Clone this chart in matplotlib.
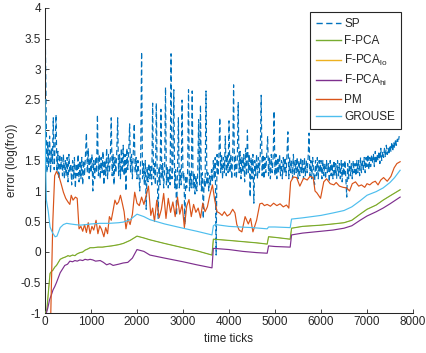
import numpy as np
import matplotlib
matplotlib.use("Agg")
import matplotlib.pyplot as plt

plt.rcParams['font.family'] = ['Liberation Sans', 'DejaVu Sans']
plt.rcParams['mathtext.fontset'] = 'custom'
plt.rcParams['mathtext.rm'] = 'Liberation Sans'
plt.rcParams['mathtext.it'] = 'Liberation Sans'
plt.rcParams['axes.unicode_minus'] = False

# ---------------- data ----------------
sp_step = 20
sp_values = [
    4.0, 2.6, 1.3, 1.8, 1.4, 1.9, 1.3, 1.7, 1.45, 2.2, 1.35, 1.75, 2.25, 1.3, 1.65, 1.2, 1.6, 1.35, 1.55, 1.25,
    1.6, 1.2, 1.5, 1.25, 1.55, 1.15, 1.6, 1.3, 1.45, 1.1, 1.5, 1.2, 1.55, 1.05, 1.45, 1.25, 1.6, 1.15, 1.5, 1.2,
    1.55, 1.1, 1.5, 1.25, 1.6, 1.95, 1.3, 1.7, 1.2, 1.55, 1.3, 1.6, 1.0, 1.5, 1.2, 1.55, 1.3, 2.25, 1.25, 1.6,
    1.2, 1.55, 1.3, 1.65, 1.1, 1.5, 1.25, 1.7, 1.2, 1.6, 1.3, 1.55, 2.2, 1.25, 1.6, 1.1, 1.55, 1.3, 1.65, 2.2,
    1.25, 1.6, 1.2, 1.7, 1.3, 1.75, 1.25, 1.6, 1.0, 1.7, 1.35, 1.65, 2.1, 1.3, 1.6, 1.2, 1.65, 2.1, 1.3, 1.55,
    1.2, 1.5, 1.25, 1.0, 1.55, 3.28, 1.2, 1.45, 1.1, 1.5, 0.7, 1.4, 1.15, 1.45, 1.2, 1.4, 1.1, 2.44, 1.2, 1.45,
    1.1, 2.44, 1.25, 0.55, 1.4, 1.1, 2.34, 1.2, 1.45, 1.05, 1.35, 2.7, 1.1, 1.4, 1.05, 1.35, 1.1, 3.25, 1.2, 1.4,
    2.66, 1.05, 1.35, 0.6, 1.3, 2.2, 1.05, 1.35, 1.1, 2.49, 1.2, 1.3, 0.45, 1.25, 1.05, 1.3, 2.66, 1.0, 1.3, 1.05,
    2.64, 1.05, 1.3, 0.95, 1.25, 1.0, 1.3, 2.17, 1.1, 2.41, 1.0, 1.3, 0.55, 1.2, 1.05, 2.64, 1.1, 1.3, 1.0, 1.25,
    1.1, 1.35, 1.15, 1.5, 1.2, 1.55, -0.05, 1.6, 1.25, 1.55, 2.2, 1.3, 1.6, 1.2, 1.55, 1.3, 1.9, 1.25, 1.6, 1.3,
    2.15, 1.3, 1.6, 1.2, 1.55, 2.74, 1.25, 1.6, 1.2, 1.5, 2.45, 1.3, 1.65, 1.2, 1.55, 1.3, 1.6, 1.15, 1.7, 1.25,
    2.0, 1.3, 1.6, 0.9, 1.55, 1.2, 1.6, 0.8, 1.5, 1.25, 1.6, 1.2, 1.55, 1.3, 1.6, 2.57, 1.25, 1.6, 1.2, 1.55,
    1.3, 1.6, 1.9, 1.25, 1.55, 1.2, 1.6, 1.3, 1.55, 2.31, 1.25, 1.6, 1.2, 1.55, 1.3, 1.6, 1.25, 1.5, 1.2, 1.55,
    1.3, 1.55, 1.25, 1.6, 1.97, 1.2, 1.55, 1.3, 1.5, 1.2, 1.6, 1.25, 1.5, 1.3, 1.55, 1.2, 1.5, 1.25, 1.55, 1.3,
    1.5, 1.2, 1.55, 1.25, 1.5, 1.3, 1.55, 1.95, 1.25, 1.5, 1.2, 1.55, 1.3, 1.1, 1.5, 1.25, 1.55, 1.2, 1.5, 1.3,
    1.5, 1.2, 1.5, 1.25, 1.45, 1.2, 1.5, 1.3, 1.45, 1.15, 1.5, 1.25, 1.45, 1.2, 1.5, 1.25, 1.45, 1.2, 1.5, 1.25,
    1.45, 1.2, 1.5, 1.15, 1.45, 1.25, 1.5, 1.2, 0.9, 1.45, 1.2, 1.5, 1.25, 1.45, 1.2, 1.5, 1.3, 1.45, 1.25, 1.5,
    1.3, 1.5, 1.25, 1.55, 1.3, 1.5, 1.35, 1.55, 1.3, 1.55, 1.4, 1.6, 1.35, 1.55, 1.4, 1.6, 1.45, 1.6, 1.4, 1.65,
    1.45, 1.6, 1.5, 1.65, 1.45, 1.7, 1.5, 1.65, 1.55, 1.7, 1.55, 1.75, 1.6, 1.7, 1.6, 1.75, 1.65, 1.8, 1.65, 1.8,
    1.7, 1.85, 1.75, 1.85, 1.8, 1.9,
]
sp_t = np.arange(len(sp_values)) * sp_step

fpca_t = [0, 40, 80, 110, 140, 170, 210, 250, 290, 330, 380, 450, 500, 540, 600, 650,
          700, 760, 820, 870, 930, 980, 1050, 1150, 1250, 1340, 1450, 1600, 1700,
          1850, 2000, 2150, 2280, 2600, 3000, 3300, 3630, 3660, 4000, 4300, 4600,
          4830, 4860, 5000, 5330, 5360, 5600, 6000, 6260, 6500, 6670, 6850, 7000,
          7200, 7350, 7500, 7720]
fpca_v = [-1.0, -0.95, -0.6, -0.35, -0.32, -0.3, -0.25, -0.22, -0.17, -0.12, -0.1,
          -0.08, -0.06, -0.07, -0.05, -0.06, -0.03, -0.01, 0.0, 0.03, 0.05, 0.07,
          0.07, 0.08, 0.08, 0.09, 0.10, 0.12, 0.14, 0.19, 0.26, 0.23, 0.20, 0.14,
          0.07, 0.02, -0.05, 0.21, 0.19, 0.17, 0.15, 0.13, 0.25, 0.24, 0.21, 0.39,
          0.42, 0.44, 0.46, 0.48, 0.52, 0.62, 0.70, 0.77, 0.85, 0.92, 1.02]

fpca_hi_t = [30, 60, 100, 140, 175, 210, 250, 290, 330, 380, 430, 490, 540, 600, 650,
             700, 760, 820, 870, 930, 980, 1040, 1100, 1200, 1270, 1340, 1410, 1480,
             1600, 1700, 1800, 1900, 2000, 2150, 2280, 2600, 3000, 3300, 3630, 3660,
             4000, 4300, 4600, 4830, 4860, 5000, 5330, 5360, 5600, 6000, 6260, 6500,
             6670, 6850, 7000, 7200, 7350, 7500, 7720]
fpca_hi_v = [-1.0, -0.92, -0.78, -0.7, -0.62, -0.57, -0.5, -0.42, -0.34, -0.28,
             -0.22, -0.2, -0.15, -0.16, -0.14, -0.15, -0.13, -0.14, -0.12, -0.13,
             -0.12, -0.13, -0.15, -0.14, -0.17, -0.21, -0.19, -0.22, -0.2, -0.18,
             -0.17, -0.1, 0.04, 0.01, -0.05, -0.10, -0.16, -0.21, -0.26, 0.06, 0.04,
             0.01, -0.01, -0.02, 0.10, 0.09, 0.08, 0.28, 0.31, 0.34, 0.36, 0.39,
             0.43, 0.52, 0.59, 0.66, 0.72, 0.79, 0.90]

pm_t = [120, 170, 210, 250, 300, 350, 400, 450, 500, 540, 570, 610, 660, 700, 740,
        780, 820, 860, 900, 940, 980, 1020, 1060, 1110, 1150, 1190, 1230, 1280, 1320,
        1360, 1400, 1440, 1480, 1520, 1560, 1600, 1640, 1680, 1720, 1760, 1800, 1850,
        1900, 1950, 2000, 2050, 2100, 2150, 2200, 2250, 2300, 2340, 2380, 2430, 2480,
        2530, 2580, 2630, 2680, 2730, 2780, 2830, 2880, 2930, 2980, 3030, 3080, 3130,
        3180, 3230, 3280, 3330, 3380, 3430, 3480, 3530, 3580, 3640, 3690, 3740, 3790,
        3850, 3900, 3960, 4020, 4080, 4130, 4170, 4220, 4280, 4350, 4420, 4470, 4520,
        4600, 4670, 4720, 4770, 4830, 4900, 4970, 5040, 5110, 5180, 5250, 5300, 5340,
        5400, 5470, 5540, 5620, 5700, 5760, 5830, 5870, 5910, 5990, 6060, 6120, 6200,
        6280, 6330, 6400, 6480, 6560, 6620, 6680, 6750, 6820, 6880, 6950, 7000, 7060,
        7120, 7180, 7240, 7300, 7360, 7440, 7520, 7590, 7650, 7720]
pm_v = [-1.2, 0.5, 1.25, 1.32, 1.25, 1.12, 0.98, 0.88, 0.82, 0.78, 0.93, 0.85, 0.90,
        0.88, 0.38, 0.42, 0.34, 0.45, 0.32, 0.48, 0.30, 0.42, 0.36, 0.52, 0.30, 0.43,
        0.37, 0.25, 0.40, 0.30, 0.58, 0.52, 0.68, 0.85, 0.78, 0.82, 0.93, 0.80, 0.66,
        0.38, 0.55, 0.45, 0.62, 0.98, 0.80, 0.76, 0.90, 0.78, 0.93, 1.08, 0.60, 0.72,
        0.50, 0.85, 0.56, 0.70, 0.96, 0.55, 0.88, 0.65, 0.82, 0.58, 0.90, 0.62, 0.78,
        0.40, 0.75, 0.86, 0.58, 0.78, 0.65, 0.72, 0.56, 0.80, 0.66, 0.74, 0.92, 1.10,
        0.85, 0.66, 0.64, 0.60, 0.66, 0.59, 0.62, 0.70, 0.64, 0.45, 0.36, 0.33, 0.58,
        0.46, 0.55, 0.33, 0.52, 0.79, 0.80, 0.76, 0.78, 0.75, 0.80, 0.76, 0.79, 0.74,
        0.77, 0.72, 1.15, 1.23, 1.22, 1.08, 1.21, 1.18, 1.24, 1.22, 1.00, 0.97, 0.88,
        1.15, 1.20, 1.12, 1.10, 1.14, 1.08, 1.06, 1.05, 1.00, 1.12, 1.15, 1.08, 1.10,
        1.06, 1.12, 1.10, 1.14, 1.16, 1.10, 1.18, 1.22, 1.16, 1.24, 1.38, 1.45, 1.48]

grouse_t = [0, 10, 30, 70, 110, 160, 220, 260, 330, 400, 470, 550, 650, 760, 900,
            1000, 1200, 1400, 1600, 1700, 1850, 2000, 2150, 2280, 2600, 3000, 3300,
            3630, 3660, 3700, 4000, 4240, 4500, 4830, 4860, 5000, 5330, 5360, 5600,
            6000, 6260, 6500, 6670, 6850, 7000, 7200, 7350, 7500, 7600, 7720]
grouse_v = [2.5, 1.6, 0.85, 0.67, 0.41, 0.32, 0.25, 0.26, 0.40, 0.45, 0.47, 0.46,
            0.45, 0.44, 0.45, 0.46, 0.47, 0.47, 0.48, 0.49, 0.53, 0.62, 0.58, 0.53,
            0.46, 0.39, 0.34, 0.28, 0.43, 0.45, 0.42, 0.41, 0.40, 0.38, 0.41, 0.41,
            0.40, 0.54, 0.56, 0.60, 0.64, 0.68, 0.74, 0.84, 0.93, 0.99, 1.05, 1.14,
            1.22, 1.34]

labels = ['SP', 'F-PCA', 'F-PCA$_{\\rm lo}$', 'F-PCA$_{\\rm hi}$', 'PM', 'GROUSE']
colors = ['#0072BD', '#77AC30', '#EDB120', '#7E2F8E', '#D95319', '#4DBEEE']

x_ticks = [0, 1000, 2000, 3000, 4000, 5000, 6000, 7000, 8000]
y_ticks = [-1, -0.5, 0, 0.5, 1, 1.5, 2, 2.5, 3, 3.5, 4]
y_ticklabels = ['-1', '-0.5', '0', '0.5', '1', '1.5', '2', '2.5', '3', '3.5', '4']

# ---------------- figure ----------------
fig = plt.figure(figsize=(4.27, 3.53), dpi=100)
ax = fig.add_axes([45 / 427, 40 / 353, 368 / 427, 305 / 353])

lw = 0.85
h_sp, = ax.plot(sp_t, sp_values, color=colors[0], lw=lw, ls=(0, (4.5, 2.5)), label=labels[0], zorder=2)
h_lo, = ax.plot(fpca_t, fpca_v, color=colors[2], lw=0.4, label=labels[2], zorder=2.5)
h_f, = ax.plot(fpca_t, fpca_v, color=colors[1], lw=lw, label=labels[1], zorder=3)
h_hi, = ax.plot(fpca_hi_t, fpca_hi_v, color=colors[3], lw=lw, label=labels[3], zorder=3)
h_pm, = ax.plot(pm_t, pm_v, color=colors[4], lw=lw, label=labels[4], zorder=3)
h_gr, = ax.plot(grouse_t, grouse_v, color=colors[5], lw=lw, label=labels[5], zorder=3)

ax.set_xlim(0, 8000)
ax.set_ylim(-1, 4)
ax.set_xticks(x_ticks)
ax.set_xticklabels([str(v) for v in x_ticks])
ax.set_yticks(y_ticks)
ax.set_yticklabels(y_ticklabels)

dark = '#262626'
for s in ['top', 'right']:
    ax.spines[s].set_visible(False)
for s in ['left', 'bottom']:
    ax.spines[s].set_color(dark)
    ax.spines[s].set_linewidth(0.75)
ax.tick_params(direction='in', length=3, width=0.6, color=dark, labelcolor=dark,
               labelsize=8.5)
ax.tick_params(axis='x', pad=2)
ax.tick_params(axis='y', pad=3)

ax.set_xlabel('time ticks', fontsize=8.5, color=dark, labelpad=4)
ax.set_ylabel('error (log(fro))', fontsize=8.5, color=dark, labelpad=2)

leg = ax.legend(handles=[h_sp, h_f, h_lo, h_hi, h_pm, h_gr], labels=labels,
                loc='upper right', bbox_to_anchor=(0.967, 0.987), borderaxespad=0,
                fontsize=8.5, frameon=True, fancybox=False, framealpha=1,
                edgecolor=dark, handlelength=2.15, handletextpad=0.25,
                labelspacing=0.46, borderpad=0.5)
leg.get_frame().set_linewidth(0.8)
for line in leg.get_lines():
    line.set_linewidth(1.0)
for t in leg.get_texts():
    t.set_color(dark)

fig.savefig('out.png', dpi=100)
